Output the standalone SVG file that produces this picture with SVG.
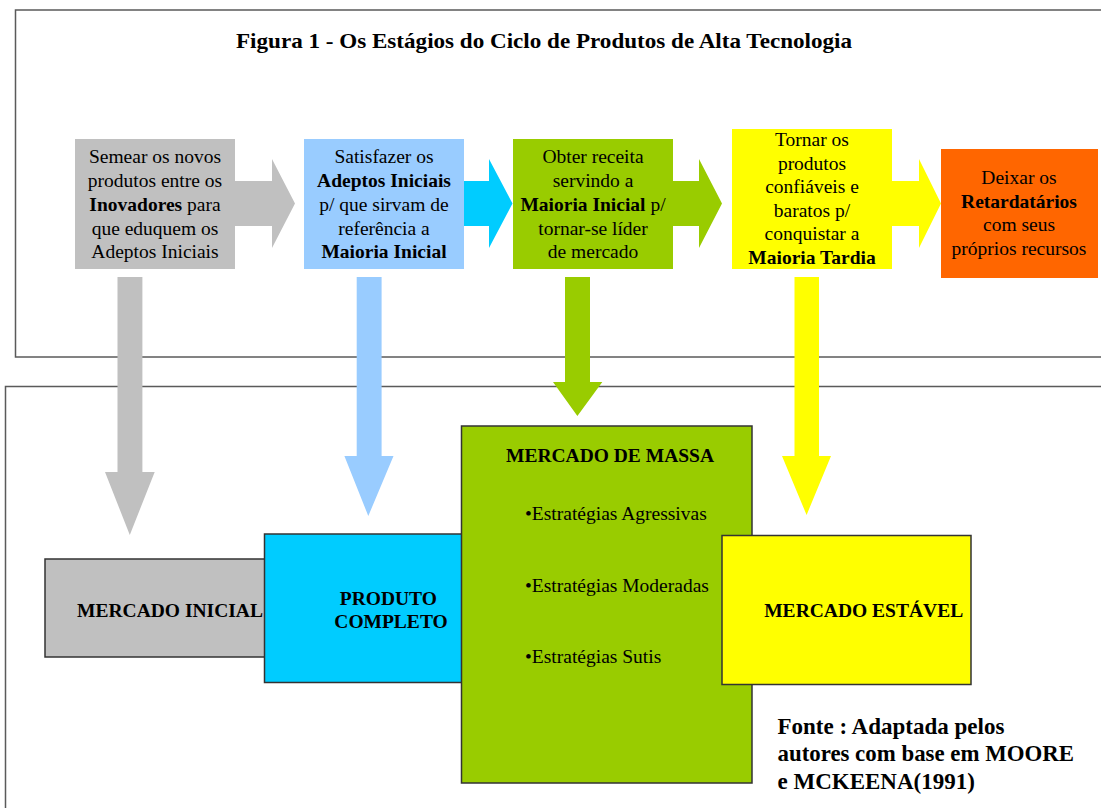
<svg xmlns="http://www.w3.org/2000/svg" width="1101" height="808" viewBox="0 0 1101 808">
<style>
.t{font-family:'Liberation Serif','DejaVu Serif',serif;font-size:19.5px;fill:#000;text-anchor:middle}
.s{text-anchor:start}
.b{font-weight:bold}
.src{font-size:23px}
.frame{fill:none;stroke:#5a5a5a;stroke-width:1.5}
.bx{stroke:#333;stroke-width:1.5}
</style>
<rect width="1101" height="808" fill="#fff"/>
<g id="frames">
<rect class="frame" x="15.5" y="10" width="1100" height="347"/>
<rect class="frame" x="5.5" y="386.5" width="1110" height="500"/>
</g>
<g id="title">
<text class="t b" x="544" y="48" style="font-size:21.5px" textLength="616" lengthAdjust="spacingAndGlyphs">Figura 1 - Os Estágios do Ciclo de Produtos de Alta Tecnologia</text>
</g>
<g id="connectors">
<polygon fill="#C0C0C0" points="235,181 272,181 272,159 295,203.5 272,248 272,226 235,226"/>
<polygon fill="#00CCFF" points="464,181 489,181 489,159 512.5,203.5 489,248 489,226 464,226"/>
<polygon fill="#99CC00" points="673,181 699,181 699,159 722,203.5 699,248 699,226 673,226"/>
<polygon fill="#FFFF00" points="892,181 919,181 919,159 941,203.5 919,248 919,226 892,226"/>
<polygon fill="#C0C0C0" points="117.5,277 142.4,277 142.4,472 154.7,472 129.8,535 105,472 117.5,472"/>
<polygon fill="#99CCFF" points="356.7,277 381.6,277 381.6,456 393.5,456 368.3,516 344.4,456 356.7,456"/>
<polygon fill="#99CC00" points="565,277 590,277 590,382 602.3,382 577.4,416 553,382 565,382"/>
<polygon fill="#FFFF00" points="794.5,277 819,277 819,456 831,456 806.6,515 782,456 794.5,456"/>
</g>
<g id="n1">
<rect x="75" y="139" width="160" height="130" fill="#C0C0C0"/>
<text class="t" x="155" y="163">Semear os novos</text>
<text class="t" x="155" y="187">produtos entre os</text>
<text class="t" x="155" y="211"><tspan class="b">Inovadores</tspan> para</text>
<text class="t" x="155" y="234.5">que eduquem os</text>
<text class="t" x="155" y="258">Adeptos Iniciais</text>
</g>
<g id="n2">
<rect x="304" y="139" width="160" height="130" fill="#99CCFF"/>
<text class="t" x="384" y="163">Satisfazer os</text>
<text class="t b" x="384" y="187">Adeptos Iniciais</text>
<text class="t" x="384" y="211">p/ que sirvam de</text>
<text class="t" x="384" y="234.5">referência a</text>
<text class="t b" x="384" y="258">Maioria Inicial</text>
</g>
<g id="n3">
<rect x="513" y="139" width="160" height="130" fill="#99CC00"/>
<text class="t" x="593" y="163">Obter receita</text>
<text class="t" x="593" y="187">servindo a</text>
<text class="t" x="593" y="211"><tspan class="b">Maioria Inicial</tspan> p/</text>
<text class="t" x="593" y="234.5">tornar-se líder</text>
<text class="t" x="593" y="258">de mercado</text>
</g>
<g id="n4">
<rect x="732" y="129" width="160" height="140" fill="#FFFF00"/>
<text class="t" x="812" y="146">Tornar os</text>
<text class="t" x="812" y="169.5">produtos</text>
<text class="t" x="812" y="193">confiáveis e</text>
<text class="t" x="812" y="216.5">baratos p/</text>
<text class="t" x="812" y="240">conquistar a</text>
<text class="t b" x="812" y="263.5">Maioria Tardia</text>
</g>
<g id="n5">
<rect x="941" y="149" width="157" height="129" fill="#FF6600"/>
<text class="t" x="1019" y="184">Deixar os</text>
<text class="t b" x="1019" y="207.5">Retardatários</text>
<text class="t" x="1019" y="231">com seus</text>
<text class="t" x="1019" y="254.5">próprios recursos</text>
</g>
<g id="m1">
<rect class="bx" x="45" y="559" width="225" height="98" fill="#C0C0C0"/>
<text class="t b s" x="77" y="616.5" textLength="186" lengthAdjust="spacingAndGlyphs">MERCADO INICIAL</text>
</g>
<g id="m2">
<rect class="bx" x="264.5" y="534" width="206" height="148.5" fill="#00CCFF"/>
<text class="t b" x="388.3" y="604.5">PRODUTO</text>
<text class="t b" x="391" y="628">COMPLETO</text>
</g>
<g id="m3">
<rect class="bx" x="461.5" y="426" width="290.5" height="357" fill="#99CC00"/>
<text class="t b" x="610" y="461.5" textLength="208" lengthAdjust="spacingAndGlyphs">MERCADO DE MASSA</text>
<text class="t s" x="525" y="520">•Estratégias Agressivas</text>
<text class="t s" x="525" y="591.5">•Estratégias Moderadas</text>
<text class="t s" x="525" y="662.5">•Estratégias Sutis</text>
</g>
<g id="m4">
<rect class="bx" x="722" y="535.5" width="249" height="149" fill="#FFFF00"/>
<text class="t b" x="863.7" y="616.5" textLength="199" lengthAdjust="spacingAndGlyphs">MERCADO ESTÁVEL</text>
</g>
<g id="source">
<text class="t b s src" x="777.5" y="733.5">Fonte : Adaptada pelos</text>
<text class="t b s src" x="777.5" y="761" textLength="296.5" lengthAdjust="spacingAndGlyphs">autores com base em MOORE</text>
<text class="t b s src" x="777.5" y="788.5">e MCKEENA(1991)</text>
</g>
</svg>
